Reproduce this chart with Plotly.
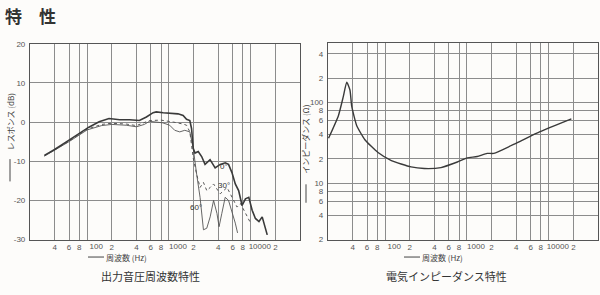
import plotly.graph_objects as go
import numpy as np

# ---- Output sound pressure frequency response (left) ----
freq_0deg = [30, 40, 60, 80, 105, 140, 185, 250, 330, 435, 530, 640, 700, 850, 1020, 1290, 1490, 1640, 1800, 1890,
             1980, 2080, 2280, 2510, 2760, 3180, 3670, 4230, 4880, 5350, 5890, 6470, 7110, 7830, 8610, 9460,
             10400, 11400, 12600, 13800, 15900]
db_0deg = [-8.5, -7.0, -4.6, -2.9, -1.3, 0.1, 0.9, 0.6, 0.6, 0.4, 1.3, 2.4, 2.6, 2.4, 2.3, 2.1, 1.7, 0.7, 0.4, -1.7,
           -6.7, -7.9, -7.5, -8.8, -10.8, -9.6, -11.7, -10.8, -10.4, -10.8, -12.9, -15.8, -17.5, -21.3, -19.6, -19.2,
           -22.5, -24.6, -25.4, -24.2, -28.8]

freq_30deg = [30, 60, 100, 150, 200, 300, 400, 500, 578, 800, 1020, 1130, 1490, 1640, 1800, 1980, 2180, 2400, 2640,
              2900, 3190, 3510, 3860, 4240, 5130, 5900, 6800, 7490, 8240, 9060, 9970]
db_30deg = [-8.6, -4.9, -1.8, -0.6, -0.3, -0.5, -0.9, -0.2, 0.4, 0.5, 0.2, 0.0, -0.5, -0.8, -2.5, -9.2, -13.3, -16.7,
            -15.4, -17.5, -16.7, -15.8, -17.1, -18.3, -16.7, -19.2, -21.7, -20.8, -22.5, -24.2, -25.8]

freq_60deg = [30, 60, 100, 150, 200, 300, 400, 500, 578, 843, 1020, 1176, 1355, 1562, 1800, 1980, 2180, 2400, 2640,
              2900, 3190, 3510, 3860, 4100, 4430, 4870, 5350, 5900, 6470, 6900]
db_60deg = [-8.7, -5.0, -2.0, -0.9, -0.6, -0.8, -1.2, -0.6, 0.2, -0.2, -0.8, -2.1, -2.5, -2.1, -2.5, -6.7, -13.3,
            -19.2, -27.5, -27.1, -24.2, -20.0, -23.3, -26.7, -23.3, -19.2, -20.0, -22.9, -25.8, -28.3]

# ---- Electrical impedance (right) ----
freq_imp = [20.3, 26.8, 30.8, 33.9, 37.1, 39.0, 44.8, 56.5, 81.8, 119, 207, 301, 480, 763, 1010, 1334, 1763, 2130,
            4070, 7820, 18900]
ohm_imp = [36, 68.7, 119, 179, 143, 90, 52, 34.6, 24, 19.1, 15.9, 15.2, 15.6, 18.3, 20.6, 21.4, 23.4, 23.4,
           31.6, 43.5, 62.8]

# ---- tick labels ----
x_tickvals = [40, 60, 80, 100, 200, 400, 600, 800, 1000, 2000, 4000, 6000, 8000, 10000, 20000]
x_ticktext = ["4", "6", "8", "100", "2", "4", "6", "8", "1000", "2", "4", "6", "8", "10000", "2"]
db_tickvals = [-30, -20, -10, 0, 10, 20]
db_ticktext = ["-30", "-20", "-10", "0", "10", "20"]
ohm_tickvals = [2, 4, 6, 8, 10, 20, 40, 60, 80, 100, 200, 400]
ohm_ticktext = ["2", "4", "6", "8", "10", "2", "4", "6", "8", "100", "2", "4"]

# single-digit labels are centred on their grid line; decade labels start at it
decade_vals = [v for v, t in zip(x_tickvals, x_ticktext) if len(t) > 1]
decade_text = [t for t in x_ticktext if len(t) > 1]

JP = "Noto Sans CJK JP"
LINE = "#3a3a3a"
GRID = "#8c8c8c"
TICKF = dict(family="Liberation Sans", size=8, color="#555555")
XR = [np.log10(20), np.log10(40000)]

fig = go.Figure()
fig.add_trace(go.Scatter(x=freq_60deg, y=db_60deg, mode="lines", line=dict(color="#555555", width=0.9),
                         xaxis="x", yaxis="y", showlegend=False))
fig.add_trace(go.Scatter(x=freq_30deg, y=db_30deg, mode="lines", line=dict(color="#555555", width=1, dash="dot"),
                         xaxis="x", yaxis="y", showlegend=False))
fig.add_trace(go.Scatter(x=freq_0deg, y=db_0deg, mode="lines", line=dict(color=LINE, width=1.6),
                         xaxis="x", yaxis="y", showlegend=False))
fig.add_trace(go.Scatter(x=freq_imp, y=ohm_imp, mode="lines",
                         line=dict(color=LINE, width=1.4, shape="spline", smoothing=0.5),
                         xaxis="x2", yaxis="y2", showlegend=False))
# invisible carriers for the overlay label axes
fig.add_trace(go.Scatter(x=freq_0deg, y=db_0deg, mode="lines", opacity=0, hoverinfo="skip",
                         xaxis="x3", yaxis="y", showlegend=False))
fig.add_trace(go.Scatter(x=freq_imp, y=ohm_imp, mode="lines", opacity=0, hoverinfo="skip",
                         xaxis="x4", yaxis="y2", showlegend=False))

axis_common = dict(showline=True, mirror=True, linecolor="#555555", linewidth=1.2, showgrid=True,
                   gridcolor=GRID, gridwidth=1, ticks="", zeroline=False, tickfont=TICKF)
overlay_common = dict(type="log", range=XR, showline=False, showgrid=False, zeroline=False, ticks="",
                      tickfont=TICKF, tickvals=decade_vals, ticktext=decade_text, tickangle=0,
                      ticklabelstandoff=0, ticklabelshift=9)

y_bot = 1 - 243 / 295
fig.update_layout(
    width=600, height=295, margin=dict(l=0, r=0, t=0, b=0),
    paper_bgcolor="#fdfcfa", plot_bgcolor="#fdfcfa",
    xaxis=dict(type="log", range=XR, domain=[30 / 600, 300 / 600],
               tickvals=x_tickvals, ticktext=[t if len(t) == 1 else "" for t in x_ticktext],
               anchor="y", tickangle=0, ticklabelstandoff=0, **axis_common),
    yaxis=dict(range=[-30, 20], domain=[y_bot, 1 - 41 / 295], tickvals=db_tickvals, ticktext=db_ticktext,
               anchor="x", ticklabelstandoff=2, **axis_common),
    xaxis2=dict(type="log", range=XR, domain=[328 / 600, 598 / 600],
                tickvals=x_tickvals, ticktext=[t if len(t) == 1 else "" for t in x_ticktext],
                anchor="y2", tickangle=0, ticklabelstandoff=0, **axis_common),
    yaxis2=dict(type="log", range=[np.log10(2), np.log10(550)], domain=[y_bot, 1 - 40 / 295],
                tickvals=ohm_tickvals, ticktext=ohm_ticktext, anchor="x2", ticklabelstandoff=2, **axis_common),
    xaxis3=dict(overlaying="x", anchor="y", side="bottom", **overlay_common),
    xaxis4=dict(overlaying="x2", anchor="y2", side="bottom", **overlay_common),
)


def pann(text, px, py, size, angle=0, color="#444444", anchor="center"):
    return dict(text=text, x=px / 600, y=1 - py / 295, xref="paper", yref="paper", xanchor=anchor,
                yanchor="middle", textangle=angle, showarrow=False,
                font=dict(family=JP, size=size, color=color))


ann = [
    pann("<b>特　性</b>", 3, 12, 17, color="#333333", anchor="left"),
    pann("レスポンス (dB)", 10, 122, 8, angle=-90),
    pann("インピーダンス (Ω)", 306, 140, 8, angle=-90),
    pann("周波数 (Hz)", 126, 261, 8),
    pann("周波数 (Hz)", 442, 261, 8),
    pann("出力音圧周波数特性", 150, 281, 11, color="#333333"),
    pann("電気インピーダンス特性", 446, 281, 11, color="#333333"),
]
for t, fx, fy in [("0°", 4700, -11.4), ("30°", 4750, -16.2), ("60°", 2150, -21.7)]:
    ann.append(dict(text=t, x=np.log10(fx), y=fy, xref="x", yref="y", showarrow=False,
                    xanchor="center", yanchor="middle",
                    font=dict(family="Liberation Sans", size=8, color="#333333")))
fig.update_layout(annotations=ann)

# leader dashes in front of axis titles
shapes = []
for x0, y0, x1, y1 in [(10, 183, 10, 160), (306, 205, 306, 186), (88, 261, 104, 261), (404, 261, 420, 261)]:
    shapes.append(dict(type="line", xref="paper", yref="paper", x0=x0 / 600, y0=1 - y0 / 295,
                       x1=x1 / 600, y1=1 - y1 / 295, line=dict(color="#444444", width=1)))
fig.update_layout(shapes=shapes)

fig.write_html("out.html")
